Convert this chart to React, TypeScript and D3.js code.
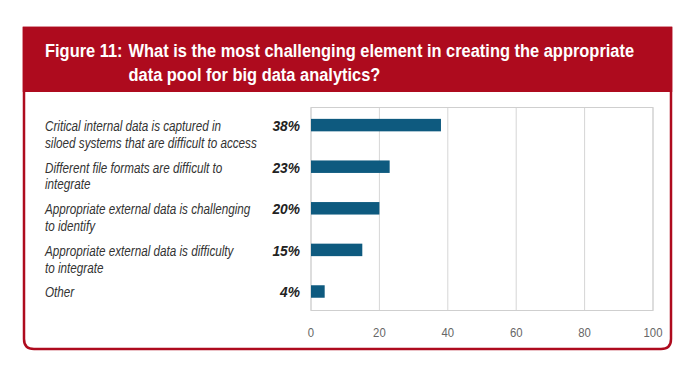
import React from "react";
import * as d3 from "d3";

const titleLines = [
  "What is the most challenging element in creating the appropriate",
  "data pool for big data analytics?",
];
const figureLabel = "Figure 11:";
const categories = [
  ["Critical internal data is captured in", "siloed systems that are difficult to access"],
  ["Different file formats are difficult to", "integrate"],
  ["Appropriate external data is challenging", "to identify"],
  ["Appropriate external data is difficulty", "to integrate"],
  ["Other"],
];
const values = [38, 23, 20, 15, 4];
const ticks = [0, 20, 40, 60, 80, 100];

const W = 696;
const H = 376;
const RED = "#ae0b1e";
const BAR = "#0e5a7f";
const FONT = "'Liberation Sans', Arial, sans-serif";
const LABEL_SIZE = 15;
const TITLE_SIZE = 18.5;

function measure(text: string, font: string, fallback: number): number {
  try {
    const c = document.createElement("canvas");
    const ctx = c.getContext("2d");
    if (!ctx) return fallback;
    ctx.font = font;
    const w = ctx.measureText(text).width;
    return w > 0 ? w : fallback;
  } catch {
    return fallback;
  }
}

export default function App() {
  const titleW = measure(titleLines[0], `bold ${TITLE_SIZE}px ${FONT}`, 575);
  const labelW = measure(categories[0][1], `italic ${LABEL_SIZE}px ${FONT}`, 242);
  const sxTitle = 506 / titleW;
  const sxLabel = 212 / labelW;

  const x = d3.scaleLinear().domain([0, 100]).range([311, 653]);
  const y = d3
    .scaleBand<number>()
    .domain(d3.range(values.length))
    .range([104.3, 312.3])
    .paddingInner(0.7)
    .paddingOuter(0.35);
  const plotTop = 107.5;
  const plotBottom = 310.5;

  const fx = 24, fy = 28, fr = 671, fb = 349, r = 10;
  const framePath = `M${fx},${fy} L${fr},${fy} L${fr},${fb - r} Q${fr},${fb} ${fr - r},${fb} L${fx + r},${fb} Q${fx},${fb} ${fx},${fb - r} Z`;

  return (
    <div style={{ position: "fixed", left: 0, top: 0, width: W, height: H, background: "#fff" }}>
      <svg width={W} height={H} style={{ display: "block" }}>
        <rect x={0} y={0} width={W} height={H} fill="#fff" />

        <path d={framePath} fill="#fff" stroke={RED} strokeWidth={2.5} />
        <rect x={fx - 1.25} y={fy - 1.25} width={fr - fx + 2.5} height={92 - fy + 1.25} fill={RED} />
        <g transform={`translate(45,56.5) scale(${sxTitle},1)`}>
          <text x={0} y={0} fill="#fff" fontFamily={FONT} fontWeight="bold" fontSize={TITLE_SIZE}>
            {figureLabel}
          </text>
        </g>
        {titleLines.map((t, i) => (
          <g key={i} transform={`translate(128.5,${56.5 + i * 24}) scale(${sxTitle},1)`}>
            <text x={0} y={0} fill="#fff" fontFamily={FONT} fontWeight="bold" fontSize={TITLE_SIZE}>
              {t}
            </text>
          </g>
        ))}

        {/* plot frame and gridlines */}
        {ticks.map((t) => (
          <line key={t} x1={x(t)} x2={x(t)} y1={plotTop} y2={plotBottom} stroke="#d6d6d6" strokeWidth={1} />
        ))}
        <rect x={x(0)} y={plotTop} width={x(100) - x(0)} height={plotBottom - plotTop} fill="none" stroke="#cfcfcf" strokeWidth={1} />

        {values.map((v, i) => (
          <rect key={i} x={x(0)} y={y(i)!} width={x(v) - x(0)} height={y.bandwidth()} fill={BAR} />
        ))}

        {categories.map((lines, i) => {
          const base = y(i)! + y.bandwidth() / 2 + 5.8;
          return (
            <g key={i}>
              {lines.map((l, j) => (
                <g key={j} transform={`translate(45,${base + j * 16.8}) scale(${sxLabel},1)`}>
                  <text x={0} y={0} fill="#333" fontFamily={FONT} fontStyle="italic" fontSize={LABEL_SIZE}>
                    {l}
                  </text>
                </g>
              ))}
              <g transform={`translate(300,${base}) scale(0.95,1)`}>
                <text x={0} y={0} textAnchor="end" fill="#222" fontFamily={FONT} fontStyle="italic" fontWeight="bold" fontSize={14.5}>
                  {values[i]}%
                </text>
              </g>
            </g>
          );
        })}

        {ticks.map((t) => (
          <g key={t} transform={`translate(${x(t)},336.7) scale(0.86,1)`}>
            <text x={0} y={0} textAnchor="middle" fill="#666" fontFamily={FONT} fontSize={13.2}>
              {t}
            </text>
          </g>
        ))}
      </svg>
    </div>
  );
}
